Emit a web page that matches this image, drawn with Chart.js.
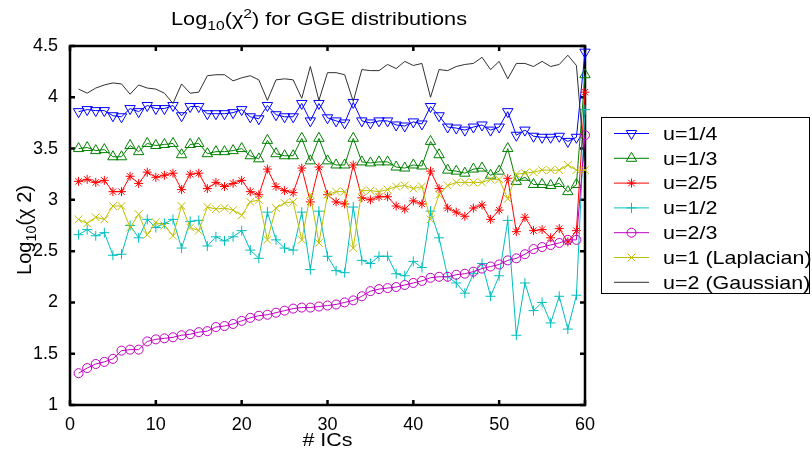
<!DOCTYPE html>
<html><head><meta charset="utf-8">
<style>html,body{margin:0;padding:0;background:#fff}canvas{display:block}</style>
<script src="https://cdn.jsdelivr.net/npm/chart.js@4.4.1/dist/chart.umd.min.js"></script>
</head><body>
<canvas id="c" width="812" height="450"></canvas>
<script>
// ---------- data ----------
const ics = [1,2,3,4,5,6,7,8,9,10,11,12,13,14,15,16,17,18,19,20,21,22,23,24,25,26,27,28,29,30,
             31,32,33,34,35,36,37,38,39,40,41,42,43,44,45,46,47,48,49,50,51,52,53,54,55,56,57,58,59,60];
const xTicks = [0,10,20,30,40,50,60];
const yTicks = [1,1.5,2,2.5,3,3.5,4,4.5];
const seriesNames = ['u=1/4','u=1/3','u=2/5','u=1/2','u=2/3','u=1 (Laplacian)','u=2 (Gaussian)'];

const u14 = [3.86,3.88,3.87,3.87,3.82,3.81,3.89,3.86,3.92,3.89,3.89,3.92,3.82,3.91,3.91,3.84,3.84,3.84,3.85,3.88,
             3.81,3.79,3.92,3.83,3.81,3.81,3.94,3.77,3.94,3.80,3.77,3.75,3.95,3.77,3.75,3.77,3.77,3.73,3.72,3.76,
             3.74,3.91,3.82,3.71,3.70,3.68,3.71,3.73,3.68,3.71,3.86,3.63,3.68,3.62,3.61,3.61,3.62,3.57,3.61,4.44];
const u13 = [3.50,3.51,3.48,3.49,3.42,3.42,3.53,3.47,3.55,3.53,3.54,3.55,3.44,3.54,3.55,3.45,3.47,3.47,3.48,3.50,
             3.43,3.40,3.58,3.45,3.43,3.43,3.60,3.38,3.60,3.38,3.34,3.34,3.60,3.37,3.36,3.37,3.37,3.32,3.31,3.34,
             3.33,3.57,3.44,3.29,3.28,3.26,3.30,3.31,3.24,3.28,3.50,3.18,3.22,3.15,3.15,3.14,3.16,3.08,3.15,4.22];
const u25 = [3.18,3.20,3.17,3.19,3.08,3.08,3.23,3.16,3.27,3.22,3.24,3.26,3.10,3.25,3.26,3.11,3.17,3.13,3.16,3.19,
             3.08,3.05,3.30,3.13,3.09,3.07,3.31,2.98,3.32,3.05,2.98,2.96,3.34,3.02,3.00,3.03,3.03,2.94,2.91,2.99,
             2.96,3.28,3.11,2.92,2.88,2.84,2.92,2.95,2.81,2.90,3.21,2.69,2.83,2.70,2.71,2.63,2.72,2.59,2.70,4.05];
const u12 = [2.66,2.71,2.65,2.68,2.46,2.47,2.75,2.63,2.81,2.73,2.77,2.81,2.53,2.79,2.80,2.55,2.64,2.60,2.64,2.70,
             2.51,2.43,2.88,2.61,2.53,2.51,2.88,2.32,2.89,2.45,2.31,2.29,2.93,2.41,2.38,2.45,2.45,2.28,2.26,2.40,
             2.34,2.89,2.63,2.25,2.19,2.09,2.28,2.38,2.06,2.26,2.80,1.68,2.19,1.92,2.00,1.80,2.06,1.74,2.07,3.88];
const u23 = [1.31,1.36,1.40,1.42,1.45,1.53,1.54,1.54,1.62,1.64,1.65,1.66,1.68,1.69,1.71,1.72,1.76,1.77,1.79,1.82,
             1.85,1.87,1.88,1.90,1.92,1.94,1.95,1.95,1.96,1.97,1.98,2.00,2.02,2.06,2.11,2.13,2.14,2.15,2.17,2.19,
             2.21,2.24,2.25,2.25,2.27,2.28,2.30,2.33,2.35,2.37,2.41,2.43,2.47,2.52,2.54,2.56,2.58,2.61,2.61,3.63];
const u1  = [2.81,2.77,2.83,2.81,2.94,2.94,2.73,2.86,2.66,2.78,2.75,2.65,2.94,2.73,2.70,2.93,2.91,2.92,2.90,2.85,
             2.98,3.00,2.61,2.92,2.97,2.98,2.61,3.05,2.58,3.05,3.08,3.08,2.53,3.09,3.09,3.08,3.10,3.13,3.14,3.11,
             3.13,2.81,3.05,3.14,3.17,3.17,3.17,3.17,3.20,3.20,3.01,3.25,3.26,3.27,3.29,3.29,3.29,3.34,3.29,3.29];
const u2  = [4.08,4.04,4.09,4.12,4.14,4.13,4.03,4.12,4.09,4.08,4.04,3.94,4.13,4.04,4.05,4.21,4.22,4.22,4.16,4.19,
             4.21,4.17,3.97,4.17,4.18,4.17,3.99,4.30,3.97,4.24,4.24,4.22,3.96,4.27,4.26,4.26,4.32,4.28,4.35,4.31,
             4.33,4.00,4.27,4.26,4.30,4.32,4.33,4.39,4.27,4.35,4.18,4.33,4.33,4.30,4.35,4.30,4.32,4.41,4.31,3.30];

// ---------- styling ----------
const FONT = '"Liberation Sans", Arial, Helvetica, sans-serif';
const styles = [
  {color:'#0000ff', marker:'triangle', rot:180, r:6},
  {color:'#008000', marker:'triangle', rot:0,   r:6},
  {color:'#ff0000', marker:'star',     rot:0,   r:4.5},
  {color:'#00bfbf', marker:'cross',    rot:0,   r:5},
  {color:'#bf00bf', marker:'circle',   rot:0,   r:4.5},
  {color:'#bfbf00', marker:'crossRot', rot:0,   r:5.5},
  {color:'#303030', marker:false,      rot:0,   r:0}
];
const values = [u14,u13,u25,u12,u23,u1,u2];

const datasets = values.map((vals, i) => ({
  label: seriesNames[i],
  data: ics.map((x, k) => ({x: x, y: vals[k]})),
  borderColor: styles[i].color,
  borderWidth: 1,
  pointStyle: styles[i].marker,
  pointRotation: styles[i].rot,
  pointRadius: styles[i].r,
  pointBorderColor: styles[i].color,
  pointBackgroundColor: 'rgba(0,0,0,0)',
  pointBorderWidth: 1,
  tension: 0,
  fill: false,
  clip: false,
  order: 6 - i
}));

function drawMarker(ctx, st, x, y) {
  if (!st.marker) return;
  const r = st.r;
  ctx.save();
  ctx.strokeStyle = st.color; ctx.lineWidth = 1;
  ctx.beginPath();
  if (st.marker === 'triangle') {
    let a = st.rot * Math.PI / 180;
    for (let k = 0; k < 3; k++) {
      const px = x + Math.sin(a) * r, py = y - Math.cos(a) * r;
      if (k === 0) ctx.moveTo(px, py); else ctx.lineTo(px, py);
      a += 2 * Math.PI / 3;
    }
    ctx.closePath();
  } else if (st.marker === 'circle') {
    ctx.arc(x, y, r, 0, 2 * Math.PI);
  } else if (st.marker === 'cross' || st.marker === 'star') {
    ctx.moveTo(x - r, y); ctx.lineTo(x + r, y);
    ctx.moveTo(x, y - r); ctx.lineTo(x, y + r);
    if (st.marker === 'star') {
      const d = r * Math.SQRT1_2;
      ctx.moveTo(x - d, y - d); ctx.lineTo(x + d, y + d);
      ctx.moveTo(x - d, y + d); ctx.lineTo(x + d, y - d);
    }
  } else if (st.marker === 'crossRot') {
    const d = r * Math.SQRT1_2;
    ctx.moveTo(x - d, y - d); ctx.lineTo(x + d, y + d);
    ctx.moveTo(x - d, y + d); ctx.lineTo(x + d, y - d);
  }
  ctx.stroke();
  ctx.restore();
}

function richWidth(ctx, segs, size) {
  let w = 0;
  segs.forEach(sg => { ctx.font = (size * sg.s) + 'px ' + FONT; w += ctx.measureText(sg.t).width; });
  return w;
}
function drawRich(ctx, segs, size, x, y) {
  segs.forEach(sg => {
    ctx.font = (size * sg.s) + 'px ' + FONT;
    ctx.fillText(sg.t, x, y + (sg.dy || 0));
    x += ctx.measureText(sg.t).width;
  });
}

const frame = {
  id: 'frame',
  beforeDatasetsDraw(chart) {
    const ctx = chart.ctx, a = chart.chartArea;
    const xs = chart.scales.x, ys = chart.scales.y;
    ctx.save();
    ctx.strokeStyle = '#000'; ctx.lineWidth = 2.5;
    ctx.strokeRect(a.left, a.top, a.right - a.left, a.bottom - a.top);
    ctx.beginPath();
    const tl = 5;
    xTicks.forEach(v => {
      const p = xs.getPixelForValue(v);
      ctx.moveTo(p, a.bottom); ctx.lineTo(p, a.bottom - tl);
      ctx.moveTo(p, a.top); ctx.lineTo(p, a.top + tl);
    });
    yTicks.forEach(v => {
      const p = ys.getPixelForValue(v);
      ctx.moveTo(a.left, p); ctx.lineTo(a.left + tl, p);
      ctx.moveTo(a.right, p); ctx.lineTo(a.right - tl, p);
    });
    ctx.stroke();
    ctx.restore();
  },
  afterDraw(chart) {
    const ctx = chart.ctx, a = chart.chartArea;
    ctx.save();
    ctx.fillStyle = '#000';
    ctx.textBaseline = 'alphabetic';
    ctx.textAlign = 'left';
    // title
    const tSegs = [{t:'Log', s:1}, {t:'10', s:0.72, dy:5}, {t:'(\u03C7', s:1}, {t:'2', s:0.72, dy:-7},
                   {t:') for GGE distributions', s:1}];
    const tSize = 19, tTarget = 296;
    const tw = richWidth(ctx, tSegs, tSize);
    const sx = tTarget / tw;
    ctx.save();
    ctx.translate(319 - tTarget / 2, 25);
    ctx.scale(sx, 1);
    drawRich(ctx, tSegs, tSize, 0, 0);
    ctx.restore();
    // x label
    ctx.save();
    ctx.font = '19px ' + FONT;
    const xl = '# ICs';
    const xw = ctx.measureText(xl).width * 1.13;
    ctx.translate((a.left + a.right) / 2 - xw / 2, 446);
    ctx.scale(1.13, 1);
    ctx.fillText(xl, 0, 0);
    ctx.restore();
    // y label
    const ySegs = [{t:'Log', s:1}, {t:'10', s:0.72, dy:5}, {t:'(\u03C7 2)', s:1}];
    const ySize = 20;
    const yw = richWidth(ctx, ySegs, ySize);
    ctx.save();
    ctx.translate(31, 230 + yw / 2);
    ctx.rotate(-Math.PI / 2);
    drawRich(ctx, ySegs, ySize, 0, 0);
    ctx.restore();
    // legend
    const L = {x: 601.5, y: 117.5, w: 208, h: 176};
    ctx.fillStyle = '#fff';
    ctx.fillRect(L.x, L.y, L.w, L.h);
    ctx.strokeStyle = '#000'; ctx.lineWidth = 1;
    ctx.strokeRect(L.x, L.y, L.w, L.h);
    ctx.textBaseline = 'middle';
    chart.data.datasets.forEach((ds, i) => {
      const st = styles[i];
      const cy = 133.5 + i * 24.8;
      ctx.strokeStyle = st.color; ctx.lineWidth = 1;
      ctx.beginPath(); ctx.moveTo(614, cy); ctx.lineTo(649, cy); ctx.stroke();
      drawMarker(ctx, st, 631.5, cy);
      ctx.save();
      ctx.fillStyle = '#000';
      ctx.font = '19px ' + FONT;
      ctx.translate(663, cy + 1);
      ctx.scale(1.13, 1);
      ctx.fillText(ds.label, 0, 0);
      ctx.restore();
    });
    ctx.restore();
  }
};

new Chart(document.getElementById('c'), {
  type: 'line',
  data: {datasets: datasets},
  options: {
    responsive: false,
    animation: false,
    devicePixelRatio: 1,
    layout: {padding: {left: 0, right: 227, top: 46, bottom: 0}},
    plugins: {legend: {display: false}, title: {display: false}, tooltip: {enabled: false}},
    scales: {
      x: {
        type: 'linear', min: 0, max: 60,
        grid: {display: false}, border: {display: false},
        afterBuildTicks: s => { s.ticks = xTicks.map(v => ({value: v})); },
        afterFit: s => { s.height = 45; },
        ticks: {color: '#000', font: {family: FONT, size: 18}, padding: 1, maxRotation: 0,
                callback: v => String(v)}
      },
      y: {
        type: 'linear', min: 1, max: 4.5,
        grid: {display: false}, border: {display: false},
        afterBuildTicks: s => { s.ticks = yTicks.map(v => ({value: v})); },
        afterFit: s => { s.width = 70; },
        ticks: {color: '#000', font: {family: FONT, size: 18}, padding: 4,
                callback: v => String(v)}
      }
    }
  },
  plugins: [frame]
});
</script>
</body></html>
